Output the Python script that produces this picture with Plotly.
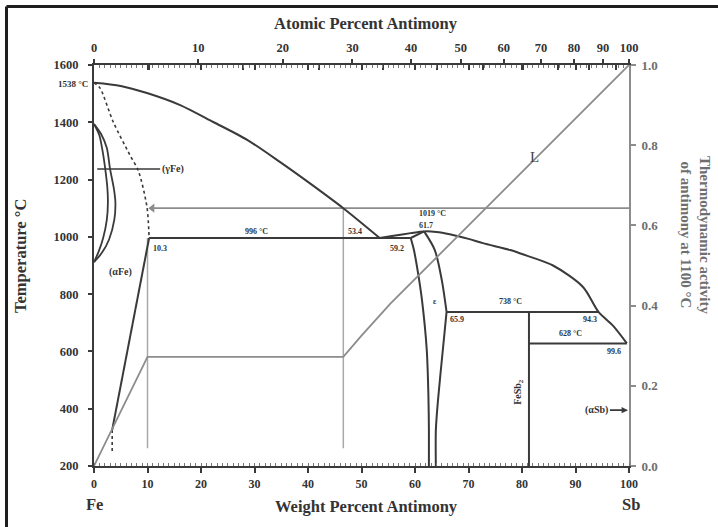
import plotly.graph_objects as go

# Plot frame in pixels (canvas 718 x 527)
W, H = 718, 527
PL, PR, PT, PB = 94, 629, 65, 466

# Atomic masses used to place the atomic-percent scale
M_FE, M_SB = 55.845, 121.76


def at_to_wt(a):
    """Atomic % Sb -> weight % Sb."""
    return 100.0 * a * M_SB / (a * M_SB + (100.0 - a) * M_FE)


def px(x):
    return (x - PL) / (PR - PL)


def py(y):
    return (PB - y) / (PB - PT)


# ---------------- data ----------------
# Liquidus, Fe-rich branch
liq_fe_wt = [0, 5, 9.9, 16.1, 22.3, 28.7, 34.8, 40.5, 46.6, 53.4]
liq_fe_t = [1538, 1527, 1502, 1460, 1401, 1338, 1261, 1185, 1100, 996]

# Liquidus over the epsilon dome and Sb-rich side
liq_sb_wt = [53.4, 56.0, 59.2, 61.7, 64.0, 66.5, 70.0, 72.7, 77.8, 80.0, 85.8, 91.4, 94.3, 97.0, 99.6]
liq_sb_t = [996, 1004, 1013, 1019, 1017, 1009, 993, 978, 954, 940, 900, 825, 738, 690, 628]

# (alpha-Fe) solidus, uncertain (dotted)
sol_fe_wt = [0, 1.1, 3.6, 6.7, 8.3, 9.9, 10.3]
sol_fe_t = [1538, 1520, 1401, 1286, 1230, 1104, 996]

# (alpha-Fe) solvus
solv_fe_wt = [10.3, 3.4]
solv_fe_t = [996, 326]
solv_fe_ext_wt = [3.4, 3.4]
solv_fe_ext_t = [326, 249]

# Gamma loop, outer and inner boundaries
gam_out_wt = [0, 1.3, 2.4, 3.0, 3.7, 4.0, 3.8, 2.8, 1.5, 0]
gam_out_t = [1394, 1360, 1310, 1237, 1170, 1120, 1060, 990, 945, 912]
gam_in_wt = [0, 1.0, 1.6, 2.1, 2.5, 2.6, 2.4, 1.7, 0.9, 0]
gam_in_t = [1394, 1355, 1300, 1237, 1170, 1120, 1060, 995, 950, 912]

# Epsilon phase boundaries
eps_left_wt = [59.2, 59.8, 60.6, 61.3, 62.2, 62.5, 62.6, 62.6]
eps_left_t = [996, 954, 870, 780, 605, 450, 326, 200]
eps_sol_wt = [59.2, 61.7]
eps_sol_t = [996, 1019]
eps_right_hi_wt = [61.7, 63.7, 65.0, 65.9]
eps_right_hi_t = [1019, 954, 850, 738]
eps_right_lo_wt = [65.9, 65.2, 64.3, 63.9, 63.9]
eps_right_lo_t = [738, 605, 430, 326, 200]

# Invariant reactions
inv_996_wt = [10.3, 59.2]
inv_996_t = [996, 996]
inv_738_wt = [65.9, 94.3]
inv_738_t = [738, 738]
inv_628_wt = [81.3, 99.6]
inv_628_t = [628, 628]

# FeSb2 compound
fesb2_wt = [81.3, 81.3]
fesb2_t = [738, 200]

# 1100 C isotherm, ending with an arrowhead on the solidus
iso_wt = [10.9, 100]
iso_t = [1100, 1100]

# Activity of Sb at 1100 C
act_wt = [0, 10.0, 46.6, 50.0, 55.4, 76.0, 100]
act_a = [0, 0.272, 0.272, 0.325, 0.405, 0.68, 1.0]
act_edge_wt = [10.0, 46.6]
act_edge_lo = [262, 262]
act_edge_hi = [996, 1100]

# Axis ticks
wt_ticks = list(range(0, 101, 10))
t_ticks = list(range(200, 1601, 200))
act_ticks = [0.0, 0.2, 0.4, 0.6, 0.8, 1.0]
at_ticks = list(range(0, 101, 10))
at_minor = list(range(5, 100, 10))

DARK = "#3a3a3a"
GRAY = "#8c8c8c"
SERIF = "Liberation Serif"

fig = go.Figure()


def line(xs, ys, color=DARK, width=2.0, dash="solid", shape="linear", yaxis="y"):
    fig.add_trace(go.Scatter(
        x=xs, y=ys, mode="lines", yaxis=yaxis, hoverinfo="skip",
        line=dict(color=color, width=width, dash=dash, shape=shape, smoothing=0.8),
        showlegend=False))


# activity curve and its construction lines (drawn first, underneath)
line(act_wt, act_a, color=GRAY, width=1.8, yaxis="y2")
for xw, lo, hi in zip(act_edge_wt, act_edge_lo, act_edge_hi):
    line([xw, xw], [lo, hi], color="#a8a8a8", width=1.5)
line(iso_wt, iso_t, color=GRAY, width=1.8)
fig.add_trace(go.Scatter(x=iso_wt[:1], y=iso_t[:1], mode="markers", hoverinfo="skip",
                         marker=dict(symbol="triangle-left", size=8, color=GRAY),
                         showlegend=False))

# phase boundaries
line(liq_fe_wt, liq_fe_t, shape="spline")
line(liq_sb_wt, liq_sb_t, shape="spline")
line(sol_fe_wt, sol_fe_t, width=1.6, dash="dot", shape="spline")
line(solv_fe_wt, solv_fe_t)
line(solv_fe_ext_wt, solv_fe_ext_t, width=1.6, dash="dot")
line(gam_out_wt, gam_out_t, width=1.8, shape="spline")
line(gam_in_wt, gam_in_t, width=1.8, shape="spline")
line(eps_left_wt, eps_left_t, shape="spline")
line(eps_sol_wt, eps_sol_t)
line(eps_right_hi_wt, eps_right_hi_t, shape="spline")
line(eps_right_lo_wt, eps_right_lo_t, shape="spline")
line(inv_996_wt, inv_996_t)
line(inv_738_wt, inv_738_t)
line(inv_628_wt, inv_628_t)
line(fesb2_wt, fesb2_t)

# ---------------- labels ----------------
small = dict(family=SERIF, size=8, color="#333333", weight="bold")
ann = []


def lab(text, x, y, font=small, xanchor="center", yanchor="middle", angle=0):
    ann.append(dict(text=text, x=x, y=y, xref="x", yref="y", showarrow=False,
                    font=font, xanchor=xanchor, yanchor=yanchor, textangle=angle))


def plab(text, x, y, font, angle=0):
    ann.append(dict(text=text, x=px(x), y=py(y), xref="paper", yref="paper",
                    showarrow=False, font=font, xanchor="center", yanchor="middle",
                    textangle=angle))


lab("10.3", 10.6, 961, xanchor="left")
lab("996 °C", 30.3, 1020)
lab("53.4", 48.8, 1020)
lab("59.2", 56.6, 961)
lab("1019 °C", 63.3, 1080)
lab("61.7", 62.0, 1038)
lab("ε", 63.8, 773)
lab("738 °C", 77.8, 776)
lab("65.9", 67.9, 713)
lab("94.3", 92.7, 713)
lab("628 °C", 89.0, 664)
lab("99.6", 97.2, 601)
lab("(αFe)", 4.9, 877, font=dict(family=SERIF, size=10, color="#333333", weight="bold"))
lab("L", 82.4, 1279, font=dict(family=SERIF, size=15, color="#444444"))
lab("FeSb<sub>2</sub>", 79.2, 458, angle=-90,
    font=dict(family=SERIF, size=10, color="#333333", weight="bold"))

# melting point of iron, left of the axis
ann.append(dict(text="1538 °C", x=px(90), y=py(84), xref="paper", yref="paper",
                showarrow=False, xanchor="right", yanchor="middle",
                font=dict(family=SERIF, size=9, color="#333333", weight="bold")))

# leader line to the gamma loop
ann.append(dict(text="(γFe)", x=0.6, y=1237, ax=14.7, ay=1237, xref="x", yref="y",
                axref="x", ayref="y", showarrow=True, arrowhead=0, arrowwidth=1.6,
                arrowcolor=DARK, standoff=0, startstandoff=0,
                font=dict(family=SERIF, size=10, color="#333333", weight="bold")))
# pointer to the Sb terminal solution
ann.append(dict(text="(αSb)", x=100, y=395, ax=94.0, ay=395, xref="x", yref="y",
                axref="x", ayref="y", showarrow=True, arrowhead=2, arrowsize=0.8,
                arrowwidth=1.6, arrowcolor=DARK, standoff=1,
                font=dict(family=SERIF, size=10, color="#333333", weight="bold")))

# axis titles and end-member labels
title_font = dict(family=SERIF, size=16.5, color="#333333", weight="bold")
plab("Atomic Percent Antimony", 366, 23, title_font)
plab("Weight Percent Antimony", 366, 506, title_font)
plab("Fe", 94, 504, title_font)
plab("Sb", 631, 504, title_font)
plab("Temperature °C", 20, 256, title_font, angle=-90)
plab("Thermodynamic activity<br>of antimony at 1100 °C", 695, 235,
     dict(family=SERIF, size=15, color="#6e6e6e", weight="bold"), angle=90)

# frame on the left and top edges
shapes = [
    dict(type="line", xref="paper", yref="paper", x0=px(6.5), x1=px(6.5), y0=py(6.5), y1=py(530),
         line=dict(color="#1e1e1e", width=3)),
    dict(type="line", xref="paper", yref="paper", x0=px(6.5), x1=px(720), y0=py(6.5), y1=py(6.5),
         line=dict(color="#1e1e1e", width=3)),
]

tick_font = dict(family=SERIF, size=12.5, color="#333333", weight="bold")
bottom_tick_font = dict(family=SERIF, size=12, color="#333333", weight="bold")

fig.update_layout(
    width=W, height=H, autosize=False,
    margin=dict(l=PL, r=W - PR, t=PT, b=H - PB),
    paper_bgcolor="white", plot_bgcolor="white",
    annotations=ann, shapes=shapes, showlegend=False,
    xaxis=dict(range=[0, 100], tickvals=wt_ticks, ticks="outside", ticklen=5, tickwidth=1.5,
               tickcolor=DARK, showline=True, linecolor=DARK, linewidth=2, showgrid=False,
               zeroline=False, tickfont=bottom_tick_font, ticklabelstandoff=1,
               minor=dict(dtick=1, ticks="inside", ticklen=3, tickwidth=1, tickcolor="#777777",
                          showgrid=False)),
    xaxis2=dict(range=[0, 100], overlaying="x", side="top",
                tickvals=[at_to_wt(a) for a in at_ticks], ticktext=[str(a) for a in at_ticks],
                ticks="outside", ticklen=4, tickwidth=1.5, tickcolor=DARK, showline=True,
                linecolor=DARK, linewidth=2, showgrid=False, zeroline=False, tickfont=tick_font,
                ticklabelstandoff=2,
                minor=dict(tickvals=[at_to_wt(a) for a in at_minor], ticks="inside", ticklen=5,
                           tickwidth=1.5, tickcolor=DARK, showgrid=False)),
    xaxis3=dict(range=[0, 100], overlaying="x", side="top", tickvals=wt_ticks, ticks="inside",
                ticklen=5, tickwidth=1.5, tickcolor=DARK, showticklabels=False, showline=False,
                showgrid=False, zeroline=False,
                minor=dict(dtick=1, ticks="inside", ticklen=3, tickwidth=1, tickcolor="#777777",
                           showgrid=False)),
    yaxis=dict(range=[200, 1600], tickvals=t_ticks, ticks="outside", ticklen=4, tickwidth=1.5,
               tickcolor=DARK, showline=True, linecolor=DARK, linewidth=2, showgrid=False,
               zeroline=False, tickfont=tick_font, ticklabelstandoff=7),
    yaxis2=dict(range=[0, 1], overlaying="y", side="right", tickvals=act_ticks,
                tickformat=".1f", ticks="outside", ticklen=5, tickwidth=1.5, tickcolor=GRAY,
                showline=True, linecolor=GRAY, linewidth=2, showgrid=False, zeroline=False,
                tickfont=dict(family=SERIF, size=13, color="#6e6e6e", weight="bold"),
                ticklabelstandoff=3),
)

# empty traces keep the extra top axes on the canvas
fig.add_trace(go.Scatter(x=[None], y=[None], xaxis="x3", showlegend=False, hoverinfo="skip"))
fig.add_trace(go.Scatter(x=[None], y=[None], xaxis="x2", showlegend=False, hoverinfo="skip"))

fig.write_html("out.html")
